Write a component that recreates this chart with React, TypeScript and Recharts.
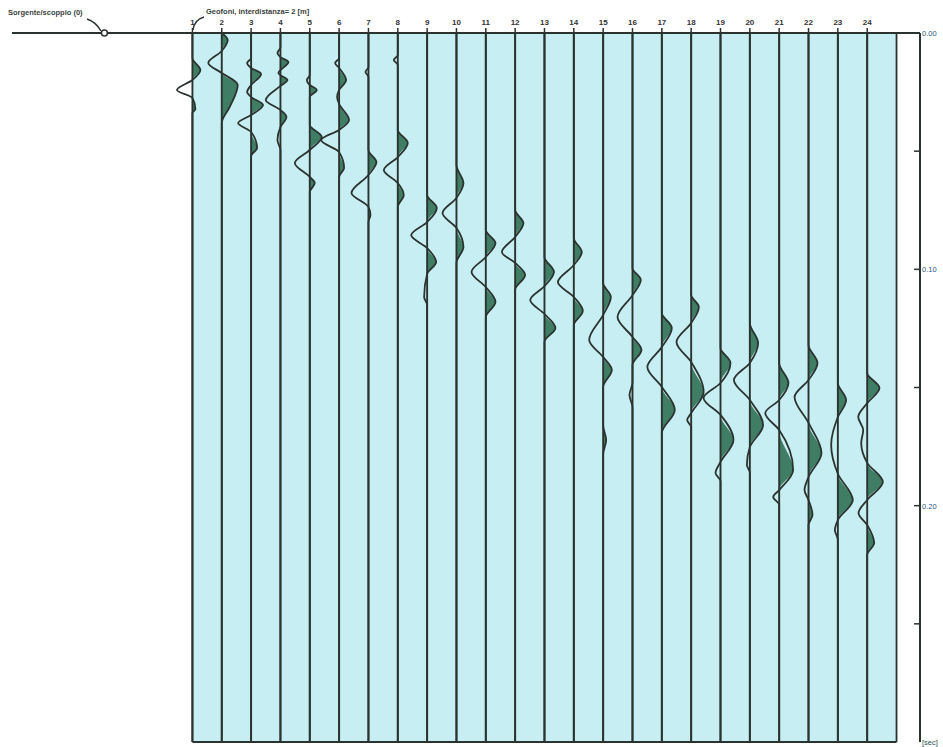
import React from 'react';
import {
  ComposedChart,
  Line,
  Area,
  XAxis,
  YAxis,
  ReferenceLine,
  ReferenceArea,
  ReferenceDot,
} from 'recharts';

// spread geometry (metres)
const SOURCE_X = 0;
const FIRST_GEOPHONE_X = 6;
const SPACING = 2;
const GEOPHONES = [1, 2, 3, 4, 5, 6, 7, 8, 9, 10, 11, 12, 13, 14, 15, 16, 17, 18, 19, 20, 21, 22, 23, 24];
const RECORD_END_X = 54;

// time axis (ms), labelled in seconds
const TIME_TICKS = [0, 50, 100, 150, 200, 250, 300];
const TIME_LABELS: Record<number, string> = { 0: '0.00', 100: '0.10', 200: '0.20', 300: '[sec]' };

// display gain: metres of trace offset per amplitude count
const GAIN = 0.068;

// picked wiggles, [time ms, amplitude] (positive = filled side)
const TRACE_1 = [[0, 0], [10.6, 0], [15.7, 8], [19.9, 0], [24.1, -15.5], [27.5, 0], [32.2, 3], [33.9, 0], [300, 0]];
const TRACE_2 = [[0, 0], [3.0, 6], [7.6, 0], [12.7, -13.5], [16.9, 0], [22.0, 16], [31.3, 8], [38.1, 0], [300, 0]];
const TRACE_3 = [[0, 0], [10.6, 0], [12.7, -4], [14.8, 0], [17.3, 10], [22.0, 0], [25.0, -4], [27.1, 0], [30.5, 12], [34.7, 0], [38.1, -13], [41.9, 0], [48.7, 6], [52.0, 0], [300, 0]];
const TRACE_4 = [[0, 0], [6, 0], [8.5, -3], [10.2, 0], [12.3, 8], [15.7, 0], [16.9, -2], [17.8, 0], [19.9, 7], [22.4, 0], [28.3, -14.7], [32.6, 0], [35.5, 6], [39.8, 0], [45.3, -3], [49.5, 0], [300, 0]];
const TRACE_5 = [[0, 0], [17.8, 0], [19.9, -3], [22.0, 0], [24.1, 7], [27.1, 0], [38.9, 0], [44.0, 12], [49.5, 0], [55.0, -15], [60.9, 0], [63.5, 5], [67.3, 0], [300, 0]];
const TRACE_6 = [[0, 0], [10.6, 0], [12.7, -4], [14.8, 0], [19.9, 7], [24.1, 0], [27.1, -2], [30.0, 0], [36.8, 10], [41.0, 0], [45.3, -18], [50.4, 0], [57.1, 5], [60.9, 0], [300, 0]];
const TRACE_7 = [[0, 0], [14.4, 0], [16.5, -3], [18.6, 0], [49.5, 0], [54.6, 8], [60.1, 0], [67.7, -17], [73.6, 0], [77.0, 2], [80.0, 0], [300, 0]];
const TRACE_8 = [[0, 0], [9.3, 0], [11.4, -4], [13.5, 0], [41.0, 0], [46.5, 10], [52.5, 0], [58.0, -14], [63.5, 0], [68.5, 6], [73.6, 0], [300, 0]];
const TRACE_9 = [[0, 0], [68.5, 0], [74.0, 9.7], [80.0, 0], [85.5, -16], [91.0, 0], [96.9, 9], [102.0, 0], [111.7, -3], [115.1, 0], [300, 0]];
const TRACE_10 = [[0, 0], [55.9, 0], [63.5, 7], [69.8, 0], [76.2, -14], [82.5, 0], [90.6, 7], [97.3, 0], [300, 0]];
const TRACE_11 = [[0, 0], [83.4, 0], [88.9, 9.7], [94.8, 0], [101.1, -14.3], [107.5, 0], [113.8, 9.7], [120.2, 0], [300, 0]];
const TRACE_12 = [[0, 0], [74.9, 0], [80.4, 8.3], [86.3, 0], [92.7, -13.3], [97.3, 0], [102.4, 10], [108.7, 0], [300, 0]];
const TRACE_13 = [[0, 0], [94.8, 0], [101.1, 9.5], [107.1, 0], [113.0, -14.3], [118.9, 0], [124.8, 11], [130.7, 0], [300, 0]];
const TRACE_14 = [[0, 0], [86.7, 0], [92.7, 8], [98.2, 0], [105.4, -16], [111.7, 0], [117.6, 9], [123.6, 0], [300, 0]];
const TRACE_15 = [[0, 0], [105.8, 0], [111.7, 7.7], [119.3, 0], [129.9, -14], [137.1, 0], [142.6, 8.7], [149.8, 0], [166.0, 0], [172.2, 3], [178.4, 0], [300, 0]];
const TRACE_16 = [[0, 0], [99.4, 0], [104.5, 8.3], [110.9, 0], [120.2, -15], [128.6, 0], [134.1, 9], [140.5, 0], [147.9, 0], [153.2, -3], [158.4, 0], [300, 0]];
const TRACE_17 = [[0, 0], [118.5, 0], [124.8, 10], [132.9, 0], [141.3, -14.5], [149.8, 0], [159.5, 13], [169.3, 0], [300, 0]];
const TRACE_18 = [[0, 0], [110.9, 0], [115.9, 7.7], [122.7, 0], [130.7, -14.7], [139.2, 0], [151.9, 12.5], [160.8, 0], [163.8, -4], [166.7, 0], [300, 0]];
const TRACE_19 = [[0, 0], [133.3, 0], [139.6, 10], [148.1, 0], [154.4, -17], [161.6, 0], [172.2, 13], [181.5, 0], [186.2, -5], [189.6, 0], [300, 0]];
const TRACE_20 = [[0, 0], [122.7, 0], [131.2, 8.3], [139.6, 0], [146.8, -16], [155.3, 0], [165.9, 13.3], [175.2, 0], [182.8, -3], [186.0, 0], [300, 0]];
const TRACE_21 = [[0, 0], [139.6, 0], [148.1, 9.3], [155.3, 0], [160.8, -14], [168.0, 0], [184.9, 14], [193.4, 0], [196.3, -6], [199.7, 0], [300, 0]];
const TRACE_22 = [[0, 0], [132.0, 0], [139.6, 9], [146.8, 0], [154.0, -14], [165.0, 0], [177.7, 13], [187.9, 0], [193.4, -4], [197.6, 0], [203.9, 4], [208.2, 0], [300, 0]];
const TRACE_23 = [[0, 0], [148.1, 0], [155.3, 8.3], [162.5, 0], [174.3, -6.7], [186.5, 0], [197.6, 15], [206.1, 0], [210.3, -3], [214.5, 0], [300, 0]];
const TRACE_24 = [[0, 0], [143.9, 0], [150.2, 12.3], [156.6, 0], [162.5, -9], [168.0, -4], [173.5, -6], [181.9, 0], [190.0, 15.7], [197.6, 0], [203.1, -8.7], [208.2, 0], [215.8, 7], [220.9, 0], [300, 0]];

const TRACES = [
  TRACE_1, TRACE_2, TRACE_3, TRACE_4, TRACE_5, TRACE_6, TRACE_7, TRACE_8,
  TRACE_9, TRACE_10, TRACE_11, TRACE_12, TRACE_13, TRACE_14, TRACE_15, TRACE_16,
  TRACE_17, TRACE_18, TRACE_19, TRACE_20, TRACE_21, TRACE_22, TRACE_23, TRACE_24,
];

const BG = '#c7eef3';
const INK = '#2b332f';
const FILL = '#3f7d65';
const FONT = '"Liberation Sans", Arial, sans-serif';

const geoX = (n: number) => FIRST_GEOPHONE_X + (n - 1) * SPACING;
const GEO_X = GEOPHONES.map(geoX);

const traceData = TRACES.map((knots, i) => {
  const c = GEO_X[i];
  return knots.map(([t, a]) => ({ t, x: c + a * GAIN, f: c + Math.max(a, 0) * GAIN }));
});

const TimeTick = (props: any) => {
  const { x, y, payload } = props;
  const label = TIME_LABELS[payload.value];
  return (
    <g>
      {payload.value > 0 && payload.value < 300 && (
        <line x1={x - 6} x2={x} y1={y} y2={y} stroke={INK} strokeWidth={1.5} />
      )}
      {label && (
        <text x={x + 2} y={y} dy={3} fontSize={7.5} fontFamily={FONT} fill={payload.value === 300 ? '#1f4f5a' : '#2a5a86'}>
          {label}
        </text>
      )}
    </g>
  );
};

const App = () => {
  return (
    <div style={{ position: 'absolute', left: 0, top: 0, width: 943, height: 747, background: '#fff' }}>
      <ComposedChart
        layout="vertical"
        width={943}
        height={747}
        margin={{ top: 0, right: 0, bottom: 5, left: 12 }}
      >
        <XAxis
          type="number"
          orientation="top"
          domain={[-6.3, 55.6]}
          allowDataOverflow
          ticks={GEO_X}
          interval={0}
          height={33}
          axisLine={false}
          tickSize={5}
          tickMargin={3}
          tickLine={{ stroke: INK, strokeWidth: 1.5 }}
          tick={{ fontSize: 8, fontWeight: 700, fill: '#333', fontFamily: FONT }}
          tickFormatter={(v: number) => String(Math.round((v - FIRST_GEOPHONE_X) / SPACING) + 1)}
        />
        <YAxis
          type="number"
          dataKey="t"
          orientation="right"
          domain={[0, 300]}
          allowDataOverflow
          ticks={TIME_TICKS}
          interval={0}
          width={23}
          tickLine={false}
          tickSize={0}
          tickMargin={0}
          axisLine={{ stroke: INK, strokeWidth: 2 }}
          tick={(p: any) => <TimeTick {...p} />}
        />
        <ReferenceArea x1={FIRST_GEOPHONE_X} x2={RECORD_END_X} y1={0} y2={300} fill={BG} fillOpacity={1} stroke="none" />
        {GEO_X.map((gx) => (
          <ReferenceLine key={`base-${gx}`} x={gx} stroke={INK} strokeWidth={1.9} />
        ))}
        <ReferenceLine x={RECORD_END_X} stroke={INK} strokeWidth={1.8} />
        <ReferenceLine
          segment={[{ x: FIRST_GEOPHONE_X, y: 300 }, { x: RECORD_END_X, y: 300 }]}
          stroke={INK}
          strokeWidth={2}
        />
        {traceData.map((d, i) => (
          <Area
            key={`fill-${i}`}
            data={d}
            dataKey="f"
            type="monotone"
            baseValue={GEO_X[i]}
            stroke="none"
            fill={FILL}
            fillOpacity={1}
            dot={false}
            activeDot={false}
            isAnimationActive={false}
          />
        ))}
        {traceData.map((d, i) => (
          <Line
            key={`wig-${i}`}
            data={d}
            dataKey="x"
            type="monotone"
            stroke={INK}
            strokeWidth={1.8}
            dot={false}
            activeDot={false}
            isAnimationActive={false}
          />
        ))}
        <ReferenceLine y={0} stroke={INK} strokeWidth={2} />
        <ReferenceDot x={SOURCE_X} y={0} r={3} fill="#fff" stroke={INK} strokeWidth={1.5} />
      </ComposedChart>

      <svg width={943} height={40} style={{ position: 'absolute', left: 0, top: 0, pointerEvents: 'none' }}>
        <path d="M87,19 Q96,22 101,31" fill="none" stroke={INK} strokeWidth={1.5} />
        <path d="M193,30 Q194,20 204,17" fill="none" stroke={INK} strokeWidth={1.5} />
      </svg>
      <div
        style={{
          position: 'absolute', left: 8, top: 9, fontFamily: FONT, fontSize: 7.5,
          fontWeight: 700, color: '#3a3f3d', whiteSpace: 'nowrap', lineHeight: 1,
        }}
      >
        Sorgente/scoppio (0)
      </div>
      <div
        style={{
          position: 'absolute', left: 206, top: 8, fontFamily: FONT, fontSize: 7.5,
          fontWeight: 700, color: '#3a3f3d', whiteSpace: 'nowrap', lineHeight: 1,
        }}
      >
        Geofoni, interdistanza= 2 [m]
      </div>
    </div>
  );
};

export default App;
